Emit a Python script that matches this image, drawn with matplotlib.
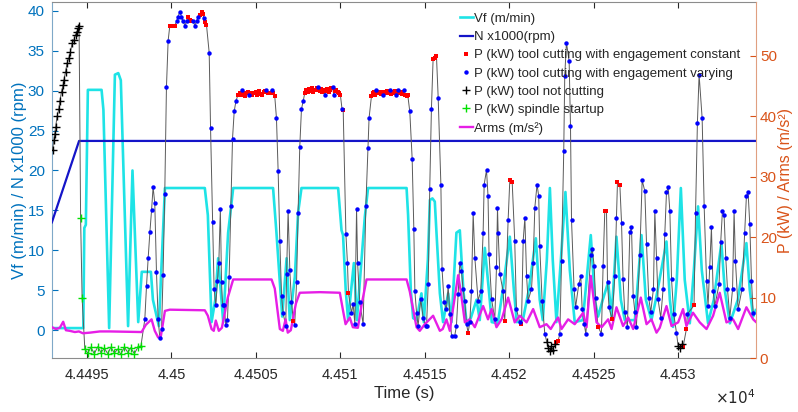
import numpy as np
import matplotlib.pyplot as plt
from matplotlib.lines import Line2D

plt.rcParams['font.family'] = ['Liberation Sans', 'DejaVu Sans']

T0 = 44490.0  # time stamps below are seconds after T0

# Vf (m/min), left axis
vf_t = [2.93, 4.79, 4.85, 4.94, 5.06, 5.87, 5.98, 6.32, 6.66, 6.86, 7.01, 7.44, 7.70, 8.04,
        8.25, 8.79, 8.91, 9.26, 9.62, 11.98, 12.16, 12.38, 12.60, 12.77, 13.07, 13.36, 13.66,
        16.02, 16.22, 16.56, 16.82, 17.01, 17.31, 17.50, 17.70, 19.87, 20.07, 20.16, 20.32,
        20.46, 20.80, 20.98, 21.45, 21.64, 23.92, 24.01, 24.17, 24.31, 24.51, 24.80, 24.94,
        25.18, 25.30, 25.45, 25.59, 25.69, 25.89, 26.08, 26.38, 26.58, 26.87, 27.07, 27.28,
        27.47, 27.72, 28.06, 28.25, 28.55, 28.79, 28.96, 29.32, 29.61, 30.03, 30.27, 30.44,
        30.80, 31.15, 31.57, 31.80, 31.98, 32.22, 32.40, 32.57, 32.79, 33.05, 33.32, 33.58,
        33.87, 34.35, 34.82, 35.06, 35.25, 35.53, 35.85, 36.05, 36.34, 36.60, 36.83, 37.43,
        37.82, 38.08, 38.41, 38.67, 39.30, 39.50, 39.69, 39.91, 40.15, 40.38, 40.68, 40.92,
        41.17, 41.39, 41.76, 42.10, 42.55, 42.75, 43.05, 43.52, 44.03, 44.23, 44.43, 44.58]
vf = [0.25, 0.25, 12.8, 13.2, 30.1, 30.1, 27.6, 0.25, 32.0, 32.2, 31.3, 0.5, 20.0, 1.0,
      7.3, 7.3, 3.8, 0.5, 17.8, 17.8, 14.4, 1.0, 3.8, 9.0, 1.0, 12.2, 17.8,
      17.8, 12.2, 1.7, 9.0, 1.25, 6.7, 14.7, 17.8, 17.8, 12.5, 11.9, 5.0,
      1.25, 8.4, 1.25, 14.2, 17.8, 17.8, 14.4, 5.0, 1.5, 1.25, 4.6, 1.0,
      8.8, 16.3, 16.5, 16.1, 12.2, 4.6, 1.0, 4.6, 1.0, 12.2, 12.5, 5.0,
      0.85, 1.5, 3.8, 1.25, 10.3, 5.0, 1.0, 0.85, 5.0, 11.7, 5.0, 1.0,
      1.25, 5.0, 11.5, 3.8, 1.25, 8.8, 17.8, 8.8, 1.0, 8.8, 17.3, 7.5,
      1.0, 1.25, 11.9, 3.8, 1.7, 3.8, 6.0, 1.7, 11.7, 3.8, 1.25, 1.25,
      11.9, 3.8, 1.25, 3.8, 11.1, 3.8, 0.4, 6.3, 17.8, 6.3, 0.85, 7.5,
      15.5, 7.5, 0.85, 3.8, 10.9, 5.0, 0.85, 3.8, 10.9, 5.0, 1.7, 2.5]

# N x1000 (rpm), left axis
n_t = [2.93, 4.54, 44.58]
n_rpm = [13.5, 23.7, 23.7]

# Arms (m/s^2), right axis
arms_t = [2.93, 3.17, 3.40, 3.60, 3.76, 3.99, 4.29, 4.53, 4.76, 5.18, 5.77, 6.36, 8.24, 8.49,
          8.83, 9.02, 9.22, 9.38, 9.62, 9.91, 11.98, 12.16, 12.38, 12.51, 12.63, 12.81, 12.99,
          13.34, 13.66, 15.93, 16.12, 16.42, 16.60, 16.76, 16.89, 17.07, 17.37, 17.60, 18.79,
          19.97, 20.15, 20.31, 20.56, 20.74, 21.04, 21.27, 21.55, 23.92, 24.11, 24.51, 24.70,
          25.00, 25.49, 25.89, 26.06, 26.28, 26.48, 26.66, 26.97, 27.13, 27.37, 27.66, 27.96,
          28.45, 28.74, 28.95, 29.24, 29.56, 29.93, 30.32, 30.62, 31.02, 31.41, 31.80, 32.20,
          32.45, 32.69, 32.89, 33.09, 33.48, 33.87, 34.37, 34.57, 34.82, 35.16, 35.46, 35.85,
          36.05, 36.34, 36.73, 37.03, 37.33, 37.78, 38.12, 38.41, 38.71, 38.90, 39.30, 39.60,
          39.99, 40.28, 40.48, 40.87, 41.27, 41.67, 42.06, 42.45, 42.85, 43.24, 43.54, 44.03,
          44.43, 44.58]
arms = [5.1, 4.8, 5.0, 6.0, 4.6, 4.5, 4.3, 4.4, 4.1, 4.2, 4.4, 4.4, 4.3, 5.5,
        6.4, 4.5, 3.4, 3.6, 7.8, 8.0, 7.9, 7.0, 4.8, 4.5, 6.2, 4.5, 5.0,
        10.0, 13.0, 13.0, 11.5, 4.8, 4.5, 6.4, 4.2, 4.6, 9.0, 10.8, 10.9,
        10.8, 8.0, 5.6, 6.7, 5.1, 5.0, 9.0, 13.0, 13.0, 11.0, 5.1, 4.5,
        5.6, 7.0, 4.5, 4.8, 6.4, 4.5, 8.0, 13.7, 11.0, 5.9, 6.4, 5.1,
        8.6, 6.4, 8.1, 5.1, 6.5, 10.0, 5.9, 7.0, 5.9, 8.1, 5.1, 5.6,
        4.8, 5.9, 6.7, 4.8, 6.4, 5.6, 7.5, 5.1, 13.6, 5.9, 5.1, 6.4,
        4.8, 8.4, 5.3, 6.7, 4.8, 10.0, 5.6, 6.4, 4.2, 5.0, 8.6, 5.3,
        5.9, 8.1, 5.3, 7.5, 5.9, 4.8, 7.0, 10.8, 5.9, 6.4, 4.8, 8.4,
        6.4, 6.0]

# P (kW), right axis, split by machine state
idle_t = [2.97, 3.05, 3.10, 3.16, 3.24, 3.34, 3.40, 3.50, 3.60, 3.64, 3.74, 3.83, 3.93, 4.03,
          4.13, 4.23, 4.33, 4.42, 4.48, 4.54, 32.22, 32.31, 32.40, 32.49, 32.57, 32.69,
          39.99, 40.09, 40.19]
idle_kw = [34.5, 36.1, 37.0, 38.3, 40.0, 41.2, 42.5, 44.1, 45.2, 46.0, 47.4, 48.8, 49.6, 50.7,
           52.1, 52.6, 53.5, 54.0, 54.6, 55.0, 2.6, 1.6, 1.2, 2.0, 1.4, 2.3,
           2.0, 1.6, 2.3]

start_t = [4.63, 4.72, 4.88, 5.06, 5.24, 5.44, 5.65, 5.83, 6.04, 6.24, 6.42, 6.63, 6.83, 7.01,
           7.22, 7.43, 7.60, 7.81, 8.02, 8.20]
start_kw = [23.2, 9.9, 1.5, 0.8, 1.8, 0.7, 1.9, 0.9, 1.6, 0.7, 1.8, 0.8, 1.5, 0.6,
            1.8, 0.9, 1.7, 0.7, 1.8, 2.0]

const_t = [9.91, 10.00, 10.09, 10.20, 10.99, 11.09, 11.19, 11.69, 11.79, 11.86, 12.01, 12.08,
           13.95, 14.05, 14.13, 14.30, 14.38, 14.47, 14.55, 14.70, 14.80, 14.88, 15.00, 15.08,
           15.16, 15.24, 15.35, 15.47, 15.55, 15.72, 15.82, 16.02, 16.12, 17.22,
           17.90, 17.98, 18.06, 18.14, 18.22, 18.30, 18.38, 18.46, 18.55, 18.62, 18.78, 18.86,
           18.94, 19.01, 19.16, 19.24, 19.32, 19.40, 19.47, 19.68, 19.76, 19.85, 19.93, 20.00,
           20.17, 20.48,
           21.84, 21.92, 22.00, 22.07, 22.22, 22.30, 22.38, 22.46, 22.61, 22.69, 22.77, 22.85,
           23.01, 23.10, 23.18, 23.25, 23.50, 23.58, 23.66, 23.84, 23.92, 23.99,
           25.49, 25.60, 25.69, 27.56, 29.73, 30.03, 30.17, 30.72, 32.79, 32.89, 35.25, 35.65,
           35.75, 36.08, 36.40, 36.54, 40.28, 40.48, 40.93]
const_kw = [55.0, 55.0, 55.0, 55.0, 56.5, 56.0, 55.7, 56.8, 57.3, 56.9, 55.6, 55.1,
            43.6, 43.8, 43.5, 43.9, 43.4, 43.8, 44.1, 43.9, 43.5, 43.8, 44.0, 43.6,
            44.2, 43.7, 43.5, 44.0, 44.2, 43.9, 43.8, 43.9, 43.3, 6.2,
            43.9, 44.3, 44.0, 44.5, 44.2, 44.6, 44.1, 44.4, 44.3, 44.6, 44.2, 44.5,
            44.0, 44.3, 44.2, 44.5, 44.1, 44.4, 44.6, 44.2, 44.4, 44.0, 43.8, 43.6,
            41.0, 10.7,
            43.3, 43.8, 44.0, 43.6, 43.8, 44.0, 43.7, 44.1, 44.0, 43.8, 44.2, 43.9,
            43.7, 44.1, 43.9, 44.2, 43.8, 44.0, 43.7, 43.6, 43.4, 43.5,
            49.5, 49.7, 49.9, 4.2, 6.2, 29.5, 29.1, 5.6, 2.6, 2.9, 5.2, 24.4,
            24.4, 6.4, 29.1, 28.7, 1.8, 4.8, 8.7]

vary_t = [8.43, 8.53, 8.63, 8.73, 8.83, 8.92, 9.02, 9.12, 9.22, 9.32, 9.42, 9.51, 9.61, 9.71,
          9.81, 10.31, 10.40, 10.50, 10.60, 10.70, 10.80, 10.90, 11.29, 11.39, 11.49, 11.59,
          11.94, 12.24, 12.32, 12.44, 12.53, 12.63, 12.73, 12.81, 12.90, 12.97, 13.03, 13.12,
          13.22, 13.32, 13.42, 13.52, 13.62, 13.72, 13.82, 14.21, 14.60, 15.63, 15.93,
          16.22, 16.32, 16.42, 16.52, 16.61, 16.77, 16.82, 16.91, 17.01, 17.11, 17.30, 17.41,
          17.50, 17.60, 17.70, 17.80, 18.69, 19.08, 19.54, 19.61, 20.10,
          20.33, 20.42, 20.66, 20.76, 20.86, 20.96, 21.02, 21.15, 21.35, 21.51, 21.64, 21.70,
          22.14, 22.53, 22.93, 23.32, 23.42, 23.77,
          24.11, 24.25, 24.35, 24.41, 24.51, 24.60, 24.76, 24.90, 25.04, 25.10, 25.20, 25.29,
          25.39, 25.79, 25.95, 26.02, 26.14, 26.28, 26.38, 26.48, 26.58,
          26.77, 26.87, 26.97, 27.07, 27.17, 27.26, 27.36, 27.47, 27.66, 27.76, 27.86, 27.96,
          28.15, 28.31, 28.45, 28.51, 28.65, 28.74, 28.80, 28.95, 29.14, 29.24, 29.30, 29.34,
          29.44, 29.63, 29.93, 30.32, 30.42, 30.62, 30.82, 30.92, 31.02, 31.11, 31.31, 31.41,
          31.51, 31.64, 31.74, 31.80, 31.94, 32.10,
          32.99, 33.09, 33.22, 33.28, 33.38, 33.54, 33.62, 33.68, 33.83, 33.92, 34.11, 34.23,
          34.31, 34.43, 34.53, 34.82, 34.90, 35.02, 35.10,
          35.45, 35.55, 35.81, 35.90, 36.24, 36.34, 36.64, 36.73, 36.83, 36.99, 37.13, 37.23,
          37.33, 37.43, 37.52, 37.72, 37.86, 38.02, 38.12, 38.25, 38.37, 38.53, 38.61, 38.71,
          38.80, 38.96, 39.10, 39.20, 39.30, 39.40, 39.50, 39.60, 39.73, 39.89,
          40.54, 41.02, 41.13, 41.23, 41.41, 41.53, 41.67, 41.76, 41.86, 41.96, 42.06, 42.16,
          42.41, 42.51, 42.61, 42.71, 42.81, 42.91, 43.05, 43.21, 43.30, 43.38, 43.54, 43.77,
          43.93, 44.03, 44.13, 44.23, 44.33, 44.43]
vary_kw = [6.4, 11.9, 16.6, 20.8, 24.5, 28.3, 25.6, 14.2, 6.4, 3.3, 4.8, 13.8, 27.1, 44.8,
           52.5, 55.7, 56.5, 57.3, 56.5, 55.7, 55.0, 55.7, 55.7, 55.0, 55.7, 56.5,
           56.2, 50.5, 38.1, 22.5, 11.5, 8.7, 12.8, 15.8, 24.7, 12.6, 8.7, 8.7,
           5.5, 6.3, 13.4, 25.2, 36.3, 40.8, 42.5, 44.4, 43.6, 44.4, 44.4,
           39.7, 30.9, 19.4, 10.3, 7.5, 5.3, 13.9, 24.4, 14.6, 9.2, 5.5, 12.6,
           24.0, 35.0, 41.2, 42.5, 44.8, 43.6, 44.8, 43.6, 41.2,
           20.5, 15.8, 7.5, 8.9, 5.6, 24.7, 15.8, 9.2, 5.6, 25.1, 34.8, 39.7,
           44.4, 43.6, 44.4, 43.6, 44.4, 44.4,
           40.8, 33.0, 21.3, 11.1, 7.5, 5.3, 9.7, 6.7, 5.3, 5.3, 12.2, 27.9,
           41.2, 43.1, 28.7, 14.7, 9.2, 8.1, 11.9, 7.3, 3.7,
           3.7, 5.3, 10.6, 15.8, 14.4, 11.4, 9.5, 5.6, 5.9, 11.1, 24.0, 16.6,
           9.5, 11.1, 20.7, 28.7, 31.1, 26.8, 17.2, 9.7, 6.4, 15.0, 24.9, 20.7,
           13.9, 11.1, 22.9, 19.4, 8.1, 5.9, 19.4, 23.2, 13.6, 9.5, 11.4, 15.8,
           24.9, 28.7, 26.8, 18.5, 9.5, 4.0,
           4.0, 16.1, 34.2, 46.7, 52.2, 49.1, 38.4, 22.9, 11.5, 8.4, 12.2, 13.5,
           8.1, 5.6, 4.0, 17.0, 18.1, 15.3, 9.9,
           4.0, 15.3, 12.6, 8.4, 13.5, 23.2, 22.4, 13.0, 7.6, 5.2, 20.8, 21.7,
           10.3, 7.6, 5.2, 17.0, 29.4, 27.6, 18.8, 9.9, 7.6, 11.5, 24.3, 16.6,
           9.7, 6.7, 11.4, 20.5, 27.4, 28.3, 24.3, 13.0, 7.3, 4.2,
           7.3, 24.0, 38.9, 46.9, 39.7, 25.1, 12.8, 8.6, 15.0, 21.6, 11.1, 8.6,
           12.2, 19.2, 24.3, 23.6, 16.5, 11.4, 6.7, 11.4, 24.3, 16.1, 8.1, 11.4,
           20.7, 26.8, 27.4, 22.1, 12.8, 7.5]

x_ticks = [44495, 44500, 44505, 44510, 44515, 44520, 44525, 44530]
x_labels = ['4.4495', '4.45', '4.4505', '4.451', '4.4515', '4.452', '4.4525', '4.453']

c_left = '#0072BD'
c_right = '#D95319'
c_vf = '#1EE3E6'
c_n = '#1414C8'
c_arms = '#E61EE6'
c_axis = '#262626'

fig = plt.figure(figsize=(7.98, 4.12), dpi=100)
ax = fig.add_axes([0.065, 0.131, 0.882, 0.864])
ax2 = ax.twinx()

ax.plot(np.array(vf_t) + T0, vf, color=c_vf, lw=1.9, zorder=2)
ax.plot(np.array(n_t) + T0, n_rpm, color=c_n, lw=1.6, zorder=3)

# whole power trace in time order, then the markers per state
all_t = np.concatenate([idle_t, start_t, const_t, vary_t]) + T0
all_kw = np.concatenate([idle_kw, start_kw, const_kw, vary_kw])
order = np.argsort(all_t)
ax2.plot(all_t[order], all_kw[order], color='#5a5a5a', lw=0.7, zorder=2)
ax2.plot(np.array(arms_t) + T0, arms, color=c_arms, lw=1.7, zorder=3)
ax2.plot(np.array(const_t) + T0, const_kw, 's', color='#FF0000', ms=2.8, mew=0, zorder=4)
ax2.plot(np.array(vary_t) + T0, vary_kw, 'o', color='#0000FF', ms=3.2, mew=0, zorder=4)
ax2.plot(np.array(idle_t) + T0, idle_kw, '+', color='black', ms=6, mew=1.0, zorder=4)
ax2.plot(np.array(start_t) + T0, start_kw, '+', color='#00E000', ms=6, mew=1.0, zorder=4)

ax.set_xlim(T0 + 2.93, T0 + 44.58)
ax.set_ylim(-3.5, 41.1)
ax2.set_ylim(0, 58.9)

ax.set_xticks(x_ticks)
ax.set_xticklabels(x_labels)
ax.set_yticks(range(0, 45, 5))
ax2.set_yticks(range(0, 60, 10))

ax.tick_params(axis='x', direction='in', top=True, length=4, pad=7, labelsize=10.5,
               colors=c_axis, labelcolor=c_axis)
ax.tick_params(axis='y', direction='in', length=4, pad=5, labelsize=11,
               colors=c_left, labelcolor=c_left)
ax2.tick_params(axis='y', direction='in', length=4, pad=3, labelsize=11,
                colors=c_right, labelcolor=c_right)

for s in ['top', 'bottom']:
    ax.spines[s].set_color('#8c8c8c')
ax.spines['left'].set_color('#7fa8c8')
ax.spines['right'].set_visible(False)
ax2.spines['right'].set_color('#e0a080')
for s in ['left', 'top', 'bottom']:
    ax2.spines[s].set_visible(False)

ax.set_xlabel('Time (s)', fontsize=12, color=c_axis, labelpad=3)
ax.set_ylabel('Vf (m/min) / N x1000 (rpm)', fontsize=12, color=c_left, labelpad=1)
ax2.set_ylabel('P (kW) / Arms (m/s²)', fontsize=11.5, color=c_right, labelpad=1)
fig.text(0.947, 0.034, r'$\times10^{4}$', ha='right', va='center', fontsize=11, color=c_axis)

handles = [
    Line2D([], [], color=c_vf, lw=1.9),
    Line2D([], [], color=c_n, lw=1.6),
    Line2D([], [], ls='none', marker='s', color='#FF0000', ms=2.8, mew=0),
    Line2D([], [], ls='none', marker='o', color='#0000FF', ms=3.2, mew=0),
    Line2D([], [], ls='none', marker='+', color='black', ms=6, mew=1.0),
    Line2D([], [], ls='none', marker='+', color='#00E000', ms=6, mew=1.0),
    Line2D([], [], color=c_arms, lw=1.7),
]
labels = ['Vf (m/min)', 'N x1000(rpm)', 'P (kW) tool cutting with engagement constant',
          'P (kW) tool cutting with engagement varying', 'P (kW) tool not cutting',
          'P (kW) spindle startup', 'Arms (m/s²)']
leg = ax2.legend(handles, labels, loc='upper left', bbox_to_anchor=(0.568, 0.985),
                 bbox_transform=fig.transFigure, frameon=False, fontsize=9.5,
                 handlelength=1.0, handletextpad=0.1, labelspacing=0.45, borderpad=0)
for txt in leg.get_texts():
    txt.set_color(c_axis)

fig.savefig('out.png', dpi=100)
